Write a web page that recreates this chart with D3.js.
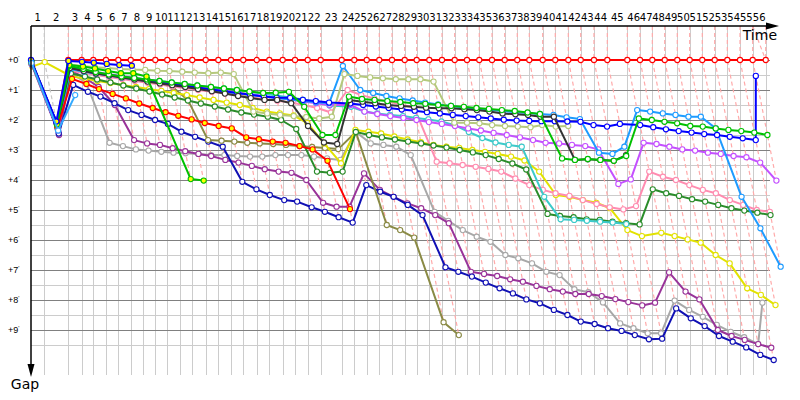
<!DOCTYPE html>
<html><head><meta charset="utf-8">
<script src="https://cdn.jsdelivr.net/npm/d3@7"></script>
<style>body{margin:0;background:#fff}svg{display:block}</style>
</head><body>
<svg id="c" width="800" height="400"></svg>
<script>
// Leader's cumulative race time (minutes) at the end of each lap, lap 0..56
const leaderTime = [0, 2.25, 6.32, 8.59, 10.56, 12.71, 14.80, 16.90, 19.03, 21.07, 23.10, 25.25, 27.34, 29.61, 31.75, 33.90, 35.98, 38.25, 40.39, 42.66, 44.75, 46.90, 49.10, 52.66, 54.80, 56.90, 59.03, 61.19, 63.34, 65.37, 67.51, 69.66, 71.81, 73.90, 75.98, 78.14, 80.29, 82.42, 84.46, 86.73, 88.86, 91.07, 93.17, 95.42, 97.68, 101.07, 103.22, 105.31, 107.41, 109.54, 111.64, 113.78, 115.88, 118.02, 120.17, 122.32, 124.53];
const lapLabels = ["1","2","3","4","5","6","7","8","9","10","11","12","13","14","15","16","17","18","19","20","21","22","23","24","25","26","27","28","29","30","31","32","33","34","35","36","37","38","39","40","41","42","43","44","45","46","47","48","49","50","51","52","53","54","55","56"];
const gapTicks = [0,1,2,3,4,5,6,7,8,9];

// Gap to leader (minutes) per lap, starting at lap 0
const gapLeader = [0.02, 2.1, 0,0,0,0,0,0,0,0,0,0, 0,0,0,0,0,0,0,0,0,0, 0,0,0,0,0,0,0,0,0,0, 0,0,0,0,0,0,0,0,0,0, 0,0,0,0,0,0,0,0,0,0, 0,0,0,0,0];
const gapGray = [0.08, 2.4, 0.45, 0.75, 2.76, 2.87, 2.98, 3.02, 3.06, 3.09, 3.11, 3.13, 3.17, 3.17, 3.2, 3.22, 3.22, 3.17, 3.17, 3.17, 3.22, 3.28, 3.33, 2.4, 2.78, 2.83, 2.89, 3.17, 5.06, 5.36, 5.67, 5.89, 6.06, 6.5, 6.61, 6.78, 7.06, 7.17, 7.64, 7.74, 8.08, 8.78, 8.94, 9.11, 9.11, 8.02, 8.33, 8.56, 8.83, 9.06, 9.24, 9.47, 8.09];
const gapPurple = [0.16, 2.5, 0.35, 0.6, 0.9, 1.5, 2.67, 2.78, 2.83, 2.94, 3.04, 3.13, 3.2, 3.33, 3.42, 3.53, 3.64, 3.72, 3.76, 4.0, 4.76, 4.89, 4.89, 3.78, 4.33, 4.56, 4.78, 4.94, 5.17, 5.44, 7.06, 7.13, 7.2, 7.31, 7.39, 7.53, 7.64, 7.72, 7.8, 7.8, 7.87, 7.97, 8.07, 8.18, 8.09, 7.08, 7.72, 7.98, 9.0, 9.2, 9.33, 9.47, 9.59];
const gapNavy = [0.05, 2.45, 0.83, 1.06, 1.22, 1.44, 1.67, 1.83, 2.0, 2.13, 2.39, 2.56, 2.72, 2.89, 4.06, 4.31, 4.5, 4.67, 4.72, 4.91, 5.06, 5.24, 5.42, 4.17, 4.39, 4.56, 4.83, 5.17, 6.91, 7.06, 7.22, 7.42, 7.61, 7.78, 7.98, 8.11, 8.33, 8.5, 8.72, 8.8, 8.94, 9.03, 9.17, 9.31, 9.29, 8.28, 8.61, 8.87, 9.2, 9.39, 9.58, 9.83, 10.0];
const gapOlive = [0.14, 2.3, 0.3, 0.38, 0.45, 0.52, 0.58, 0.64, 0.7, 0.78, 0.9, 1.33, 2.67, 2.69, 2.72, 2.76, 2.78, 2.8, 2.83, 2.87, 2.9, 2.93, 2.97, 2.4, 5.5, 5.67, 5.92, 8.74, 9.17];
const gapYellow = [0.22, 0.07, 0.55, 0.62, 0.7, 0.77, 0.84, 0.9, 0.97, 1.03, 1.1, 1.17, 1.25, 1.33, 1.42, 1.5, 1.6, 1.72, 1.78, 1.85, 2.1, 2.78, 3.44, 2.33, 2.39, 2.45, 2.55, 2.65, 2.74, 2.83, 2.89, 2.93, 3.0, 3.06, 3.13, 3.22, 3.35, 3.72, 4.5, 4.56, 4.67, 4.76, 4.94, 5.67, 5.87, 5.76, 5.87, 5.98, 6.09, 6.5, 6.78, 7.61, 7.83, 8.17];
const gapPink = [0.18, 2.3, 0.35, 0.43, 0.5, 0.57, 0.63, 0.7, 0.76, 0.82, 0.88, 0.94, 1.0, 1.06, 1.12, 1.18, 1.24, 1.3, 1.36, 1.42, 1.5, 1.6, 1.75, 1.0, 1.17, 1.28, 1.38, 1.48, 1.58, 3.39, 3.44, 3.5, 3.56, 3.63, 3.72, 3.95, 4.17, 4.33, 4.44, 4.53, 4.67, 4.8, 4.91, 4.98, 4.87, 3.72, 3.89, 4.0, 4.17, 4.33, 4.44, 4.67, 4.83, 5.0, 5.06];
const gapDarkGreen = [0.1, 2.2, 0.45, 0.55, 0.65, 0.75, 0.85, 0.95, 1.05, 1.15, 1.25, 1.35, 1.45, 1.55, 1.65, 1.75, 1.82, 1.89, 2.0, 2.3, 3.72, 3.76, 3.72, 2.4, 2.5, 2.58, 2.65, 2.72, 2.78, 2.85, 2.92, 3.0, 3.08, 3.17, 3.3, 3.45, 3.65, 5.13, 5.2, 5.24, 5.31, 5.33, 5.39, 5.44, 5.48, 4.31, 4.44, 4.53, 4.64, 4.72, 4.83, 4.94, 5.02, 5.09, 5.17];
const gapCyan = [0.12, 2.25, 0.3, 0.38, 0.45, 0.5, 0.55, 0.6, 0.65, 0.7, 0.75, 0.8, 0.85, 0.9, 0.95, 1.0, 1.06, 1.12, 1.18, 1.25, 1.32, 1.4, 1.52, 1.56, 1.72, 1.78, 1.83, 1.87, 1.93, 1.98, 2.05, 2.17, 2.4, 2.6, 2.75, 2.83, 2.89, 4.56, 5.31, 5.33, 5.36, 5.39, 5.42, 5.47];
const gapViolet = [0.15, 2.35, 0.25, 0.33, 0.4, 0.47, 0.53, 0.6, 0.66, 0.72, 0.78, 0.84, 0.9, 0.96, 1.02, 1.08, 1.14, 1.2, 1.26, 1.32, 1.38, 1.44, 1.5, 1.5, 1.72, 1.8, 1.87, 1.93, 2.0, 2.07, 2.13, 2.2, 2.28, 2.35, 2.43, 2.5, 2.58, 2.67, 2.76, 2.78, 2.83, 2.87, 2.98, 4.13, 3.98, 2.76, 2.8, 2.89, 2.98, 3.02, 3.09, 3.13, 3.2, 3.24, 3.42, 4.02];
const gapLightBlue = [0.15, 2.3, 0.3, 0.38, 0.45, 0.52, 0.58, 0.64, 0.7, 0.76, 0.82, 0.88, 0.94, 1.0, 1.06, 1.12, 1.17, 1.22, 1.27, 1.32, 1.37, 1.41, 1.44, 0.2, 1.0, 1.1, 1.2, 1.28, 1.35, 1.42, 1.48, 1.53, 1.58, 1.62, 1.66, 1.7, 1.74, 1.77, 1.8, 1.83, 1.91, 1.97, 3.09, 3.13, 2.89, 1.67, 1.72, 1.78, 1.83, 1.89, 1.89, 2.28, 4.56, 5.61, 6.89];
const gapLightOlive = [0.1, 2.2, 0.15, 0.2, 0.24, 0.27, 0.3, 0.32, 0.33, 0.36, 0.37, 0.39, 0.42, 0.44, 0.42, 0.47, 1.72, 1.78, 1.83, 1.87, 1.9, 1.95, 1.89, 0.47, 0.53, 0.58, 0.61, 0.64, 0.64, 0.64, 0.72, 2.09, 2.09, 2.11, 2.17, 2.2, 2.22, 2.24, 2.17, 2.22, 2.2];
const gapBlue = [0.03, 2.1, 0.25, 0.35, 0.43, 0.5, 0.56, 0.62, 0.68, 0.74, 0.8, 0.86, 0.92, 0.98, 1.04, 1.1, 1.16, 1.22, 1.26, 1.26, 1.33, 1.37, 1.42, 1.45, 1.5, 1.55, 1.6, 1.65, 1.69, 1.74, 1.78, 1.83, 1.87, 1.91, 1.95, 1.99, 2.02, 2.03, 2.04, 2.04, 2.05, 2.06, 2.17, 2.22, 2.13, 2.17, 2.24, 2.31, 2.37, 2.42, 2.47, 2.5, 2.56, 2.61, 2.67, 0.53];
const gapBlack = [0.06, 2.2, 0.27, 0.37, 0.45, 0.52, 0.58, 0.65, 0.72, 0.78, 0.84, 0.9, 0.97, 1.04, 1.12, 1.2, 1.27, 1.33, 1.33, 1.44, 2.2, 2.75, 2.8, 1.33, 1.39, 1.44, 1.5, 1.53, 1.56, 1.59, 1.61, 1.61, 1.64, 1.67, 1.72, 1.78, 1.81, 1.83, 1.89, 1.89, 3.33, 3.31, 3.33, 3.36, 3.17];
const gapGreen = [0.04, 2.15, 0.2, 0.3, 0.4, 0.48, 0.55, 0.6, 0.65, 0.7, 0.75, 0.8, 0.85, 0.9, 0.95, 1.0, 1.05, 1.1, 1.09, 1.06, 1.56, 2.5, 2.5, 1.22, 1.3, 1.33, 1.37, 1.4, 1.44, 1.46, 1.5, 1.53, 1.56, 1.6, 1.63, 1.67, 1.7, 1.75, 1.8, 3.28, 3.33, 3.3, 3.33, 3.36, 3.2, 1.95, 2.0, 2.06, 2.11, 2.2, 2.22, 2.28, 2.33, 2.37, 2.42, 2.5];
const gapRedY = [0.12, 2.25, 0.63, 0.8, 0.97, 1.13, 1.28, 1.45, 1.6, 1.74, 1.86, 1.98, 2.1, 2.2, 2.28, 2.58, 2.64, 2.72, 2.76, 2.87, 2.98, 3.36, 4.97];
const gapGreenY = [0.05, 2.15, 0.17, 0.22, 0.28, 0.37, 0.44, 0.44, 0.55, null, 3.97, 4.02];
const gapBlueY = [0, 2.05, 0.03, 0.06, 0.09, 0.13, 0.17, 0.19];
const gapSky = [0.1, 2.35, 1.17];

const seriesList = [
  {gaps: gapLeader, stroke: "#ff0000", fill: "#ffffff"},
  {gaps: gapGray, stroke: "#a8a8a8", fill: "#ffffff"},
  {gaps: gapPurple, stroke: "#993399", fill: "#ffffff"},
  {gaps: gapNavy, stroke: "#1010b4", fill: "#ffffff"},
  {gaps: gapOlive, stroke: "#8a8a45", fill: "#ffffff"},
  {gaps: gapYellow, stroke: "#e2e200", fill: "#ffffff"},
  {gaps: gapPink, stroke: "#ff8cb0", fill: "#ffffff"},
  {gaps: gapDarkGreen, stroke: "#2a8c2a", fill: "#ffffff"},
  {gaps: gapCyan, stroke: "#3ccaca", fill: "#ffffff"},
  {gaps: gapViolet, stroke: "#c450ff", fill: "#ffffff"},
  {gaps: gapLightBlue, stroke: "#1e9bff", fill: "#ffffff"},
  {gaps: gapLightOlive, stroke: "#b5c97d", fill: "#ffffff"},
  {gaps: gapBlue, stroke: "#0000ff", fill: "#ffffff"},
  {gaps: gapBlack, stroke: "#333333", fill: "#ffffff"},
  {gaps: gapGreen, stroke: "#00c000", fill: "#ffffff"},
  {gaps: gapRedY, stroke: "#ff0000", fill: "#ffff00"},
  {gaps: gapGreenY, stroke: "#00c000", fill: "#ffff00"},
  {gaps: gapBlueY, stroke: "#0000ff", fill: "#ffff00"},
  {gaps: gapSky, stroke: "#33aaff", fill: "#ffffff"}
];

const svg = d3.select("#c");
const x = d3.scaleLinear().domain([0, 100]).range([31, 621]);
const y = d3.scaleLinear().domain([0, 10]).range([60, 360]);
const TOP = 26, BOTTOM = 375, LEFT = 31, RIGHT = 770;

// grid: minor horizontal lines (half minutes)
const minor = gapTicks.map(d => d + 0.5);
svg.append("g").selectAll("line").data(minor).join("line")
  .attr("x1", LEFT).attr("x2", RIGHT)
  .attr("y1", d => Math.round(y(d)) + 0.5).attr("y2", d => Math.round(y(d)) + 0.5)
  .attr("stroke", "#cccccc").attr("stroke-width", 1);
// vertical lap lines
svg.append("g").selectAll("line").data(leaderTime.slice(1)).join("line")
  .attr("x1", d => Math.round(x(d)) + 0.5).attr("x2", d => Math.round(x(d)) + 0.5)
  .attr("y1", TOP).attr("y2", BOTTOM)
  .attr("stroke", "#cccccc").attr("stroke-width", 1);
// major horizontal lines
svg.append("g").selectAll("line").data(gapTicks).join("line")
  .attr("x1", LEFT).attr("x2", RIGHT)
  .attr("y1", d => Math.round(y(d)) + 0.5).attr("y2", d => Math.round(y(d)) + 0.5)
  .attr("stroke", "#808080").attr("stroke-width", 1);

// lap-completion lines: every car that completes lap k lies on x = T_k + gap
const maxGap = leaderTime.map((t, k) => d3.max(seriesList, s => (s.gaps[k] == null ? undefined : s.gaps[k])));
const lapLines = leaderTime.map((t, k) => ({k, t, g: maxGap[k] || 0})).filter(d => d.k >= 1);
svg.append("g").selectAll("path").data(lapLines).join("path")
  .attr("d", d => `M${x(d.t)},${TOP}V${y(0)}L${x(d.t + d.g)},${y(d.g)}`)
  .attr("fill", "none")
  .attr("stroke", d => d.k === 1 ? "#c8c8c8" : "#ffaaaa")
  .attr("stroke-width", 1.2)
  .attr("stroke-dasharray", "4,3");
// chequered-flag line
svg.append("path")
  .attr("d", `M${x(leaderTime[55])},${TOP}L${x(leaderTime[56])},${y(0)}`)
  .attr("fill", "none").attr("stroke", "#ffaaaa").attr("stroke-width", 1.2).attr("stroke-dasharray", "4,3");

// series
const line = d3.line().x(d => x(leaderTime[d.lap] + d.g)).y(d => y(d.g));
const sg = svg.append("g");
seriesList.forEach(s => {
  const pts = s.gaps.map((g, i) => ({lap: i, g})).filter(d => d.g != null);
  const g = sg.append("g");
  g.append("path").datum(pts).attr("d", line)
    .attr("fill", "none").attr("stroke", s.stroke).attr("stroke-width", 2)
    .attr("stroke-linejoin", "round");
  g.selectAll("circle").data(pts).join("circle")
    .attr("cx", d => x(leaderTime[d.lap] + d.g)).attr("cy", d => y(d.g))
    .attr("r", 2.6).attr("fill", s.fill).attr("stroke", s.stroke).attr("stroke-width", 1.1);
});

// axes
svg.append("line").attr("x1", LEFT).attr("x2", 768).attr("y1", TOP).attr("y2", TOP)
  .attr("stroke", "#000").attr("stroke-width", 1.3);
svg.append("path").attr("d", `M766,22.5L779,${TOP}L766,29.5Z`).attr("fill", "#000");
svg.append("line").attr("x1", LEFT).attr("x2", LEFT).attr("y1", TOP).attr("y2", 366)
  .attr("stroke", "#000").attr("stroke-width", 1.5);
svg.append("path").attr("d", `M27.5,364L${LEFT},377L34.5,364Z`).attr("fill", "#000");

// lap labels along the top
svg.append("g").selectAll("text").data(lapLabels).join("text")
  .attr("x", (d, i) => (x(leaderTime[i]) + x(leaderTime[i + 1])) / 2)
  .attr("y", 21)
  .attr("text-anchor", "middle")
  .attr("font-family", "DejaVu Sans, Verdana, sans-serif")
  .attr("font-size", 10).attr("fill", "#000")
  .text(d => d);

// gap labels
const yl = svg.append("g").selectAll("text").data(gapTicks).join("text")
  .attr("x", 8).attr("y", d => y(d) + 3)
  .attr("font-family", "Liberation Sans, Arial, sans-serif")
  .attr("font-size", 9).attr("fill", "#000");
yl.append("tspan").text(d => "+" + d);
yl.append("tspan").attr("font-size", 6).attr("dy", -3).text("'");

svg.append("text").attr("x", 777).attr("y", 40).attr("text-anchor", "end")
  .attr("font-family", "DejaVu Sans, Verdana, sans-serif").attr("font-size", 14).text("Time");
svg.append("text").attr("x", 25).attr("y", 389).attr("text-anchor", "middle")
  .attr("font-family", "DejaVu Sans, Verdana, sans-serif").attr("font-size", 14).text("Gap");
</script>
</body></html>
